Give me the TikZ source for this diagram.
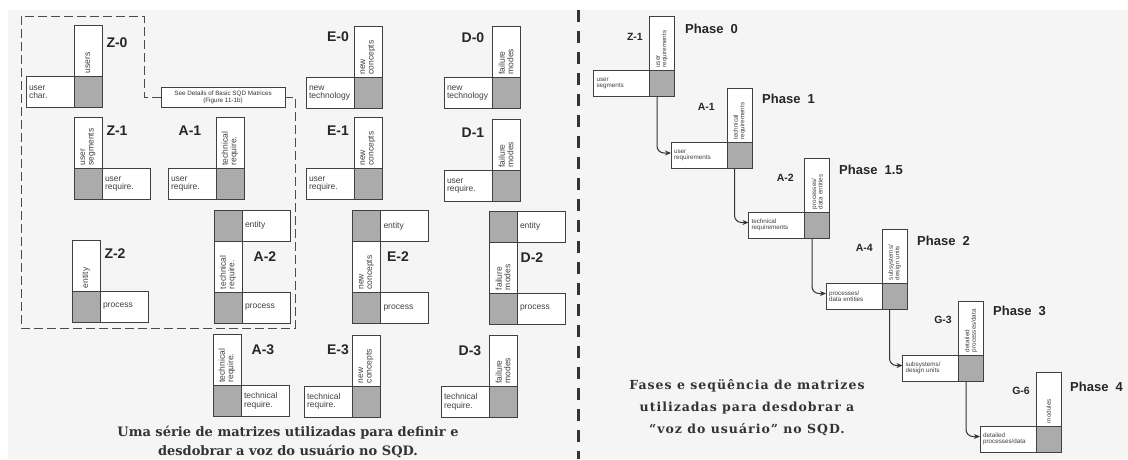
\documentclass[tikz,border=0pt]{standalone}
\usepackage{fontspec}
\setsansfont{Liberation Sans}
\newfontfamily\capfont{DejaVu Serif}
\newfontfamily\capwidefont[LetterSpace=8]{DejaVu Serif}
\usetikzlibrary{positioning, arrows.meta}

\tikzset{
    cell/.style = {draw=black!75, line width=0.8pt, outer sep=0pt, inner sep=0pt},
    shade-cell/.style = {cell, fill=black!33, minimum width=28pt, minimum height=31pt},
    col-box/.style = {cell, fill=white, rotate=90, anchor=west, minimum width=51pt, minimum height=28pt,
        inner xsep=3pt, text width=45pt, align=left, text=black!75, font=\sffamily\fontsize{8.5}{8.5}\selectfont},
    row-box/.style = {cell, fill=white, minimum width=48pt, minimum height=31pt,
        inner xsep=3pt, text width=42pt, align=left, text=black!75, font=\sffamily\fontsize{8.5}{8.5}\selectfont},
    small-shade/.style = {cell, fill=black!33, minimum width=25pt, minimum height=26pt},
    small-col/.style = {cell, fill=white, rotate=90, anchor=west, minimum width=54pt, minimum height=25pt,
        inner xsep=3pt, text width=48pt, align=left, text=black!75, font=\sffamily\fontsize{6.3}{6.5}\selectfont},
    small-row/.style = {cell, fill=white, minimum width=56pt, minimum height=26pt,
        inner xsep=3pt, text width=50pt, align=left, text=black!75, font=\sffamily\fontsize{6.3}{6.5}\selectfont},
    big-tag/.style = {inner sep=0pt, text=black!85, font=\sffamily\bfseries\fontsize{14}{14}\selectfont},
    small-tag/.style = {inner sep=0pt, anchor=east, text=black!85, font=\sffamily\bfseries\fontsize{10.5}{10.5}\selectfont},
    phase-tag/.style = {inner sep=0pt, anchor=west, text=black!85, font=\sffamily\bfseries\fontsize{13}{13}\selectfont},
    detail-box/.style = {cell, fill=white, minimum width=124pt, minimum height=20pt, align=center,
        text=black!80, font=\sffamily\fontsize{6.3}{7}\selectfont},
    frame/.style = {draw=black!70, line width=1pt, dash pattern=on 9pt off 4pt},
    divider/.style = {draw=black!80, line width=3pt, dash pattern=on 12pt off 9pt},
    flow/.style = {draw=black!80, line width=1pt, rounded corners=7pt, -{Stealth[length=6pt, width=5pt]}},
}

\begin{document}
\begin{tikzpicture}[x=1pt, y=-1pt]
\useasboundingbox (0,0) rectangle (1128,459);
\fill[white] (0,0) rectangle (1128,459);
\fill[black!4] (8,10) rectangle (1128,459);

% left: series of matrices
\node[shade-cell] (z0s) at (88,92) {};
\node[col-box] (z0c) at (z0s.north) {users};
\node[row-box, left=0pt of z0s] (z0r) {user\\char.};
\node[big-tag] at (117,43) {Z-0};

\node[shade-cell] (z1s) at (88,184) {};
\node[col-box] (z1c) at (z1s.north) {user\\segments};
\node[row-box, right=0pt of z1s] (z1r) {user\\require.};
\node[big-tag] at (117,131) {Z-1};

\node[shade-cell] (a1s) at (230,184) {};
\node[col-box] (a1c) at (a1s.north) {technical\\require.};
\node[row-box, left=0pt of a1s] (a1r) {user\\require.};
\node[big-tag] at (190,131) {A-1};

\node[shade-cell] (e0s) at (368,93) {};
\node[col-box] (e0c) at (e0s.north) {new\\concepts};
\node[row-box, left=0pt of e0s] (e0r) {new\\technology};
\node[big-tag] at (338,37) {E-0};

\node[shade-cell] (e1s) at (368,184) {};
\node[col-box] (e1c) at (e1s.north) {new\\concepts};
\node[row-box, left=0pt of e1s] (e1r) {user\\require.};
\node[big-tag] at (338,131) {E-1};

\node[shade-cell] (d0s) at (506,93) {};
\node[col-box] (d0c) at (d0s.north) {failure\\modes};
\node[row-box, left=0pt of d0s] (d0r) {new\\technology};
\node[big-tag] at (473,38) {D-0};

\node[shade-cell] (d1s) at (506,186) {};
\node[col-box] (d1c) at (d1s.north) {failure\\modes};
\node[row-box, left=0pt of d1s] (d1r) {user\\require.};
\node[big-tag] at (473,133) {D-1};

\node[shade-cell] (z2s) at (86,306.5) {};
\node[col-box] (z2c) at (z2s.north) {entity};
\node[row-box, right=0pt of z2s] (z2r) {process};
\node[big-tag] at (115,254) {Z-2};

\node[shade-cell] (a2s) at (228,307.5) {};
\node[col-box] (a2c) at (a2s.north) {technical\\require.};
\node[shade-cell, anchor=south] (a2t) at (a2c.east) {};
\node[row-box, right=0pt of a2t] (a2e) {entity};
\node[row-box, right=0pt of a2s] (a2r) {process};
\node[big-tag] at (265,257) {A-2};

\node[shade-cell] (e2s) at (366.5,308) {};
\node[col-box] (e2c) at (e2s.north) {new\\concepts};
\node[shade-cell, anchor=south] (e2t) at (e2c.east) {};
\node[row-box, right=0pt of e2t] (e2e) {entity};
\node[row-box, right=0pt of e2s] (e2r) {process};
\node[big-tag] at (398,257) {E-2};

\node[shade-cell] (d2s) at (503,308.5) {};
\node[col-box] (d2c) at (d2s.north) {failure\\modes};
\node[shade-cell, anchor=south] (d2t) at (d2c.east) {};
\node[row-box, right=0pt of d2t] (d2e) {entity};
\node[row-box, right=0pt of d2s] (d2r) {process};
\node[big-tag] at (532,258) {D-2};

\node[shade-cell] (a3s) at (227,401) {};
\node[col-box] (a3c) at (a3s.north) {technical\\require.};
\node[row-box, right=0pt of a3s] (a3r) {technical\\require.};
\node[big-tag] at (263,350) {A-3};

\node[shade-cell] (e3s) at (366,401.5) {};
\node[col-box] (e3c) at (e3s.north) {new\\concepts};
\node[row-box, left=0pt of e3s] (e3r) {technical\\require.};
\node[big-tag] at (338,350) {E-3};

\node[shade-cell] (d3s) at (503,402) {};
\node[col-box] (d3c) at (d3s.north) {failure\\modes};
\node[row-box, left=0pt of d3s] (d3r) {technical\\require.};
\node[big-tag] at (470,351) {D-3};

% dashed frame round the basic matrices
\node[detail-box] (details) at (223,97) {See Details of Basic SQD Matrices\\(Figure 11-1b)};
\draw[frame] (details.west) -- (144,97) -- (144,16) -- (21,16) -- (21,328)
    -- (295,328) -- (295,97) -- (details.east);

\node[font=\capfont\bfseries\fontsize{13}{19}\selectfont, align=center, text=black!80] (left-caption)
    at (288,442) {Uma série de matrizes utilizadas para definir e\\desdobrar a voz do usuário no SQD.};

\draw[divider] (578,10) -- (578,459);

% right: phases
\node[small-shade] (pz1s) at (662,83.5) {};
\node[small-col] (pz1c) at (pz1s.north) {user\\requirements};
\node[small-row, left=0pt of pz1s] (pz1r) {user\\segments};
\node[small-tag] at (643,37) {Z-1};
\node[phase-tag] at (685,29) {Phase~~0};

\node[small-shade] (pa1s) at (739.5,155.5) {};
\node[small-col] (pa1c) at (pa1s.north) {technical\\requirements};
\node[small-row, left=0pt of pa1s] (pa1r) {user\\requirements};
\node[small-tag] at (715,107) {A-1};
\node[phase-tag] at (762,99) {Phase~~1};

\node[small-shade] (pa2s) at (817,225) {};
\node[small-col] (pa2c) at (pa2s.north) {processes/\\data entities};
\node[small-row, left=0pt of pa2s] (pa2r) {technical\\requirements};
\node[small-tag] at (794,178) {A-2};
\node[phase-tag] at (839,170) {Phase~~1.5};

\node[small-shade] (pa4s) at (894.5,296) {};
\node[small-col] (pa4c) at (pa4s.north) {subsystems/\\design units};
\node[small-row, left=0pt of pa4s] (pa4r) {processes/\\data entities};
\node[small-tag] at (873,248) {A-4};
\node[phase-tag] at (917,241) {Phase~~2};

\node[small-shade] (pg3s) at (971,368) {};
\node[small-col] (pg3c) at (pg3s.north) {detailed\\processes/data};
\node[small-row, left=0pt of pg3s] (pg3r) {subsystems/\\design units};
\node[small-tag] at (952,320) {G-3};
\node[phase-tag] at (993,311) {Phase~~3};

\node[small-shade] (pg6s) at (1048.5,439) {};
\node[small-col] (pg6c) at (pg6s.north) {modules};
\node[small-row, left=0pt of pg6s] (pg6r) {detailed\\processes/data};
\node[small-tag] at (1030,391) {G-6};
\node[phase-tag] at (1070,387) {Phase~~4};

\draw[flow] ([xshift=-5pt]pz1s.south) |- ([yshift=2.5pt]pa1r.west);
\draw[flow] ([xshift=-5pt]pa1s.south) |- ([yshift=2.5pt]pa2r.west);
\draw[flow] ([xshift=-5pt]pa2s.south) |- ([yshift=2.5pt]pa4r.west);
\draw[flow] ([xshift=-5pt]pa4s.south) |- ([yshift=2.5pt]pg3r.west);
\draw[flow] ([xshift=-5pt]pg3s.south) |- ([yshift=2.5pt]pg6r.west);

\node[font=\capwidefont\bfseries\fontsize{12.5}{22}\selectfont, align=center, text=black!80] (right-caption)
    at (747,408) {Fases e seqüência de matrizes\\utilizadas para desdobrar a\\“voz do usuário” no SQD.};
\end{tikzpicture}
\end{document}
